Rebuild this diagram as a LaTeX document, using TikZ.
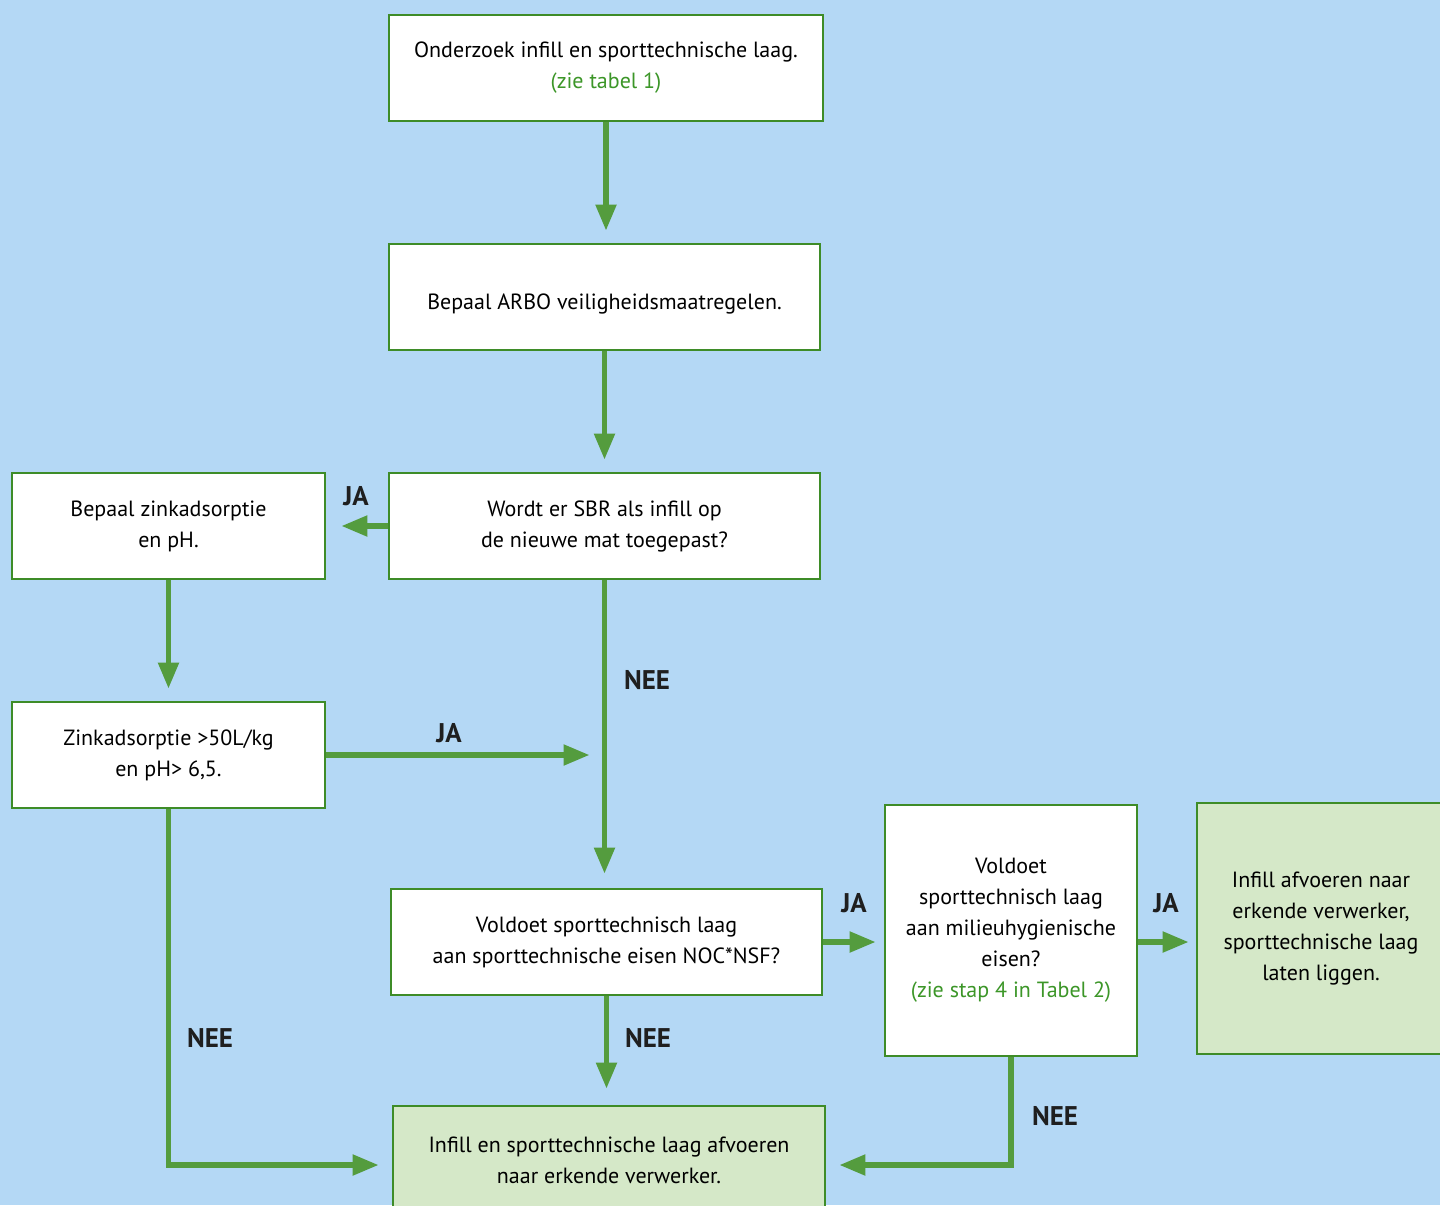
\documentclass[tikz,border=0pt]{standalone}
\usepackage{fontspec}
\setmainfont{PT Sans}
\usetikzlibrary{positioning,calc,arrows.meta}

\definecolor{skyblue}{RGB}{180,216,245}
\definecolor{boxgreen}{RGB}{62,140,40}
\definecolor{arrowgreen}{RGB}{84,156,62}
\definecolor{palegreen}{RGB}{213,232,200}
\definecolor{notegreen}{RGB}{60,150,40}

\tikzset{
  stepbox/.style={draw=boxgreen, line width=1.4pt, fill=white, align=center,
                  inner sep=0pt, font=\fontsize{11}{15.5}\selectfont,
                  execute at begin node={\rule{0pt}{14.5pt}}},
  endbox/.style={stepbox, fill=palegreen},
  flow/.style={draw=arrowgreen, line width=2.6pt,
               -{Triangle[length=13pt,width=10pt]}},
  answer/.style={font=\fontsize{13.5}{15}\selectfont\bfseries, text=black!88}
}

\begin{document}
\begin{tikzpicture}[x=0.5pt, y=0.5pt]
\useasboundingbox (0,0) rectangle (1440,-1205);
\clip (0,0) rectangle (1440,-1205);
\fill[skyblue] (0,0) rectangle (1440,-1205);

% main column
\node[stepbox, minimum width=217pt, minimum height=53pt] (onderzoek) at (606,-68)
{Onderzoek infill en sporttechnische laag.\\
{\color{notegreen}(zie tabel 1)}};
\node[stepbox, minimum width=215.5pt, minimum height=53pt] (arbo) at (604.5,-297)
{Bepaal ARBO veiligheidsmaatregelen.};
\node[stepbox, minimum width=215.5pt, minimum height=53pt] (sbr) at (604.5,-526)
{Wordt er SBR als infill op\\de nieuwe mat toegepast?};
\node[stepbox, minimum width=215.5pt, minimum height=53pt] (noc) at (606.5,-942)
{Voldoet sporttechnisch laag\\aan sporttechnische eisen NOC*NSF?};
\node[endbox, minimum width=216pt, minimum height=54pt] (afvoeren) at (609,-1160)
{Infill en sporttechnische laag afvoeren\\naar erkende verwerker.};

% left column
\node[stepbox, minimum width=156.5pt, minimum height=53pt] (bepaal) at (168.5,-526)
{Bepaal zinkadsorptie\\en pH.};
\node[stepbox, minimum width=156.5pt, minimum height=53pt] (zink) at (168.5,-755)
{Zinkadsorptie >50L/kg\\en pH> 6,5.};

% right side
\node[stepbox, minimum width=126pt, minimum height=125.5pt] (milieu) at (1011,-930.5)
{Voldoet\\sporttechnisch laag\\aan milieuhygienische\\eisen?\\
{\color{notegreen}(zie stap 4 in Tabel 2)}};
\node[endbox, minimum width=124pt, minimum height=125.5pt] (laten) at (1321,-928.5)
{Infill afvoeren naar\\erkende verwerker,\\sporttechnische laag\\laten liggen.};

\coordinate (merge) at (sbr.south |- zink.east);

% connectors
\draw[flow, shorten >=6pt] (onderzoek.south) -- (onderzoek.south |- arbo.north);
\draw[flow, shorten >=6pt] (arbo.south) -- (arbo.south |- sbr.north);
\draw[flow, shorten >=7.5pt] (sbr.west) -- (sbr.west -| bepaal.east);
\draw[flow, shorten >=6pt] (bepaal.south) -- (zink.north);
\draw[flow, shorten >=7.5pt] (zink.east) -- (merge);
\draw[flow, shorten >=7pt] (sbr.south) -- (sbr.south |- noc.north);
\draw[flow, shorten >=4pt] (noc.east) -- (noc.east -| milieu.west);
\draw[flow, shorten >=3.5pt] (milieu.east |- noc.east) -- (noc.east -| laten.west);
\draw[flow, shorten >=8pt] (noc.south) -- (noc.south |- afvoeren.north);
\draw[flow, shorten >=6.5pt] (zink.south) |- ([yshift=-2.5pt]afvoeren.west);
\draw[flow, shorten >=6.5pt] (milieu.south) |- ([yshift=-2.5pt]afvoeren.east);

% answers
\node[answer] (ja1) at (356,-496) {JA};
\node[answer] (ja2) at (449,-733) {JA};
\node[answer] (nee1) at (647,-680) {NEE};
\node[answer] (ja3) at (854,-903) {JA};
\node[answer] (ja4) at (1166,-903) {JA};
\node[answer] (nee2) at (648,-1038) {NEE};
\node[answer] (nee3) at (210,-1038) {NEE};
\node[answer] (nee4) at (1055,-1116) {NEE};
\end{tikzpicture}
\end{document}
